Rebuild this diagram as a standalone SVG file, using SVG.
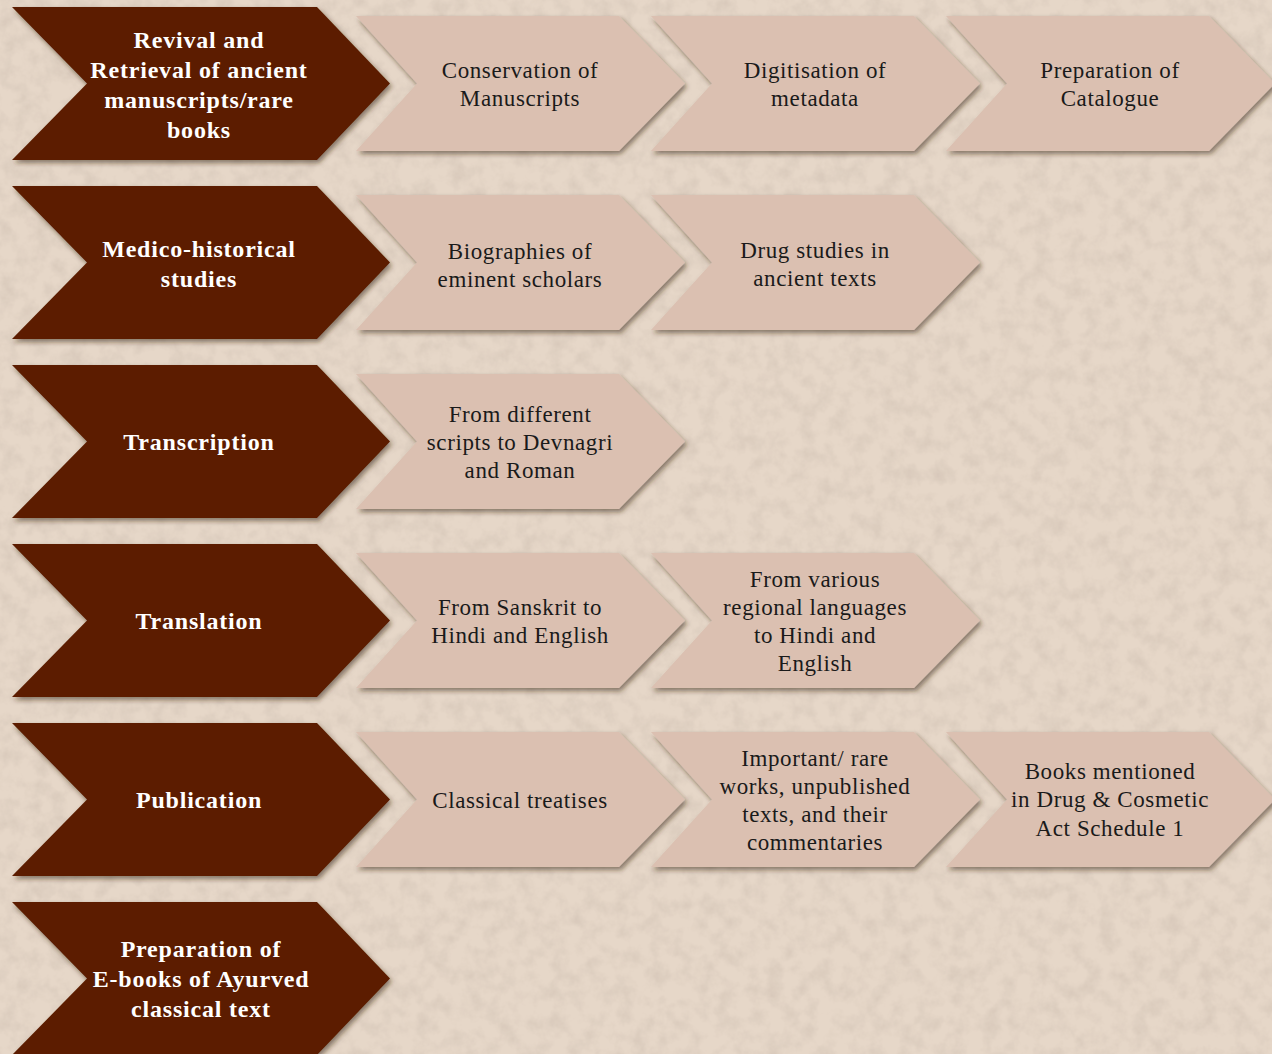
<svg xmlns="http://www.w3.org/2000/svg" width="1272" height="1054" viewBox="0 0 1272 1054">
<defs>
<filter id="tex" x="0" y="0" width="100%" height="100%">
<feTurbulence type="fractalNoise" baseFrequency="0.06" numOctaves="4" seed="3" result="n"/>
<feColorMatrix in="n" type="matrix" values="0 0 0 0 0.62  0 0 0 0 0.52  0 0 0 0 0.44  0 0 0 1.1 -0.42" result="c"/>
<feComposite in="c" in2="SourceGraphic" operator="over"/>
</filter>
<filter id="sh" x="-10%" y="-10%" width="125%" height="130%">
<feDropShadow dx="2" dy="3" stdDeviation="2.5" flood-color="#3a2515" flood-opacity="0.55"/>
</filter>
<polygon id="dk" points="0,0 305,0 378,76.5 305,153 0,153 75,76.5"/>
<polygon id="lt" points="0,0 263,0 329,67.5 263,135 0,135 61,67.5"/>
</defs>
<style>
.dark{fill:#5C1F00;filter:url(#sh)}
.light{fill:#DBC0B1;filter:url(#sh)}
.dt{font-family:"Liberation Serif",serif;font-weight:bold;font-size:24px;fill:#ffffff;text-anchor:middle;letter-spacing:0.8px}
.lt{font-family:"Liberation Serif",serif;font-size:23px;fill:#1a1a1a;text-anchor:middle;letter-spacing:0.6px}
</style>
<rect width="1272" height="1054" fill="#E6D7C8" filter="url(#tex)"/>
<g id="connectors"/>

<g id="n1">
<use href="#dk" class="dark" x="12" y="7"/>
<text class="dt" x="199"><tspan x="199" y="48">Revival and</tspan><tspan x="199" y="78">Retrieval of ancient</tspan><tspan x="199" y="108">manuscripts/rare</tspan><tspan x="199" y="138">books</tspan></text>
</g>
<g id="n1a">
<use href="#lt" class="light" x="356" y="16"/>
<text class="lt"><tspan x="520" y="78">Conservation of</tspan><tspan x="520" y="106">Manuscripts</tspan></text>
</g>
<g id="n1b">
<use href="#lt" class="light" x="651" y="16"/>
<text class="lt"><tspan x="815" y="78">Digitisation of</tspan><tspan x="815" y="106">metadata</tspan></text>
</g>
<g id="n1c">
<use href="#lt" class="light" x="946" y="16"/>
<text class="lt"><tspan x="1110" y="78">Preparation of</tspan><tspan x="1110" y="106">Catalogue</tspan></text>
</g>

<g id="n2">
<use href="#dk" class="dark" x="12" y="186"/>
<text class="dt"><tspan x="199" y="257">Medico-historical</tspan><tspan x="199" y="287">studies</tspan></text>
</g>
<g id="n2a">
<use href="#lt" class="light" x="356" y="195"/>
<text class="lt"><tspan x="520" y="259">Biographies of</tspan><tspan x="520" y="287">eminent scholars</tspan></text>
</g>
<g id="n2b">
<use href="#lt" class="light" x="651" y="195"/>
<text class="lt"><tspan x="815" y="258">Drug studies in</tspan><tspan x="815" y="286">ancient texts</tspan></text>
</g>

<g id="n3">
<use href="#dk" class="dark" x="12" y="365"/>
<text class="dt" x="199" y="450">Transcription</text>
</g>
<g id="n3a">
<use href="#lt" class="light" x="356" y="374"/>
<text class="lt"><tspan x="520" y="422">From different</tspan><tspan x="520" y="450">scripts to Devnagri</tspan><tspan x="520" y="478">and Roman</tspan></text>
</g>

<g id="n4">
<use href="#dk" class="dark" x="12" y="544"/>
<text class="dt" x="199" y="629">Translation</text>
</g>
<g id="n4a">
<use href="#lt" class="light" x="356" y="553"/>
<text class="lt"><tspan x="520" y="615">From Sanskrit to</tspan><tspan x="520" y="643">Hindi and English</tspan></text>
</g>
<g id="n4b">
<use href="#lt" class="light" x="651" y="553"/>
<text class="lt"><tspan x="815" y="587">From various</tspan><tspan x="815" y="615">regional languages</tspan><tspan x="815" y="643">to Hindi and</tspan><tspan x="815" y="671">English</tspan></text>
</g>

<g id="n5">
<use href="#dk" class="dark" x="12" y="723"/>
<text class="dt" x="199" y="808">Publication</text>
</g>
<g id="n5a">
<use href="#lt" class="light" x="356" y="732"/>
<text class="lt" x="520" y="808">Classical treatises</text>
</g>
<g id="n5b">
<use href="#lt" class="light" x="651" y="732"/>
<text class="lt"><tspan x="815" y="766">Important/ rare</tspan><tspan x="815" y="794">works, unpublished</tspan><tspan x="815" y="822">texts, and their</tspan><tspan x="815" y="850">commentaries</tspan></text>
</g>
<g id="n5c">
<use href="#lt" class="light" x="946" y="732"/>
<text class="lt"><tspan x="1110" y="779">Books mentioned</tspan><tspan x="1110" y="807">in Drug &amp; Cosmetic</tspan><tspan x="1110" y="836">Act Schedule 1</tspan></text>
</g>

<g id="n6">
<use href="#dk" class="dark" x="12" y="902"/>
<text class="dt"><tspan x="201" y="957">Preparation of</tspan><tspan x="201" y="987">E-books of Ayurved</tspan><tspan x="201" y="1017">classical text</tspan></text>
</g>
</svg>
